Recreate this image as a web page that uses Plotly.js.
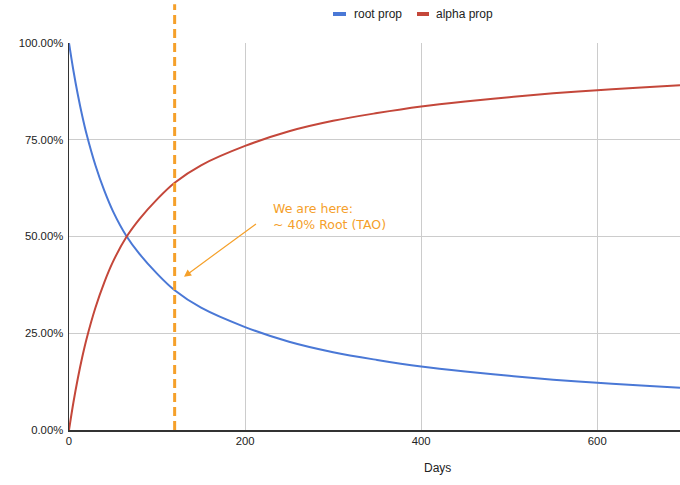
<!DOCTYPE html>
<html>
<head>
<meta charset="utf-8">
<script src="https://cdn.plot.ly/plotly-3.0.1.min.js"></script>
<style>
  html, body { margin: 0; padding: 0; background: #ffffff; }
  #chart { width: 680px; height: 485px; }
</style>
</head>
<body>
<div id="chart"></div>
<script>
// ---- data ----
var days = [0, 5, 10, 15, 20, 30, 40, 50, 65, 80, 100, 120, 150, 200, 250, 300, 350, 400, 450, 500, 550, 600, 650, 694];
var rootProp = [100, 92.9, 86.7, 81.2, 76.4, 68.4, 61.9, 56.5, 50.2, 45.5, 40.4, 36.1, 31.6, 26.6, 22.8, 20.1, 18.1, 16.4, 15.1, 14.0, 13.0, 12.2, 11.5, 10.9];
var alphaProp = [0, 7.1, 13.3, 18.8, 23.6, 31.6, 38.1, 43.5, 49.8, 54.5, 59.6, 63.9, 68.4, 73.4, 77.2, 79.9, 81.9, 83.6, 84.9, 86.0, 87.0, 87.8, 88.5, 89.1];
var seriesNames = ['root prop', 'alpha prop'];
var xTicks = [0, 200, 400, 600];
var yTicks = [0, 25, 50, 75, 100];
var markerDay = 120;
var arrowPoint = {day: 130.6, value: 39.6};
var notePoint = {day: 229.5, value: 59.7};
var noteText = 'We are here:<br>~ 40% Root (TAO)';
var xTitle = 'Days';

var BLUE = '#4a78d6';
var RED = '#c4473a';
var ORANGE = '#f5a02a';
var FONT = 'Liberation Sans, Arial, sans-serif';

var traces = [
  {x: days, y: rootProp, name: seriesNames[0], type: 'scatter', mode: 'lines',
   line: {color: BLUE, width: 2, shape: 'spline', smoothing: 1}, showlegend: false, cliponaxis: false},
  {x: days, y: alphaProp, name: seriesNames[1], type: 'scatter', mode: 'lines',
   line: {color: RED, width: 2, shape: 'spline', smoothing: 1}, showlegend: false, cliponaxis: false}
];

var layout = {
  width: 680, height: 485,
  margin: {l: 69, r: 0, t: 43, b: 55, pad: 0},
  paper_bgcolor: '#ffffff', plot_bgcolor: '#ffffff',
  font: {family: FONT, size: 12, color: '#222222'},
  xaxis: {
    range: [0, 694], tickvals: xTicks, ticktext: xTicks.map(String),
    showgrid: true, gridcolor: '#cccccc', gridwidth: 1,
    zeroline: false, showline: true, linecolor: '#333333', linewidth: 1.5,
    ticks: '', tickfont: {size: 11.3, color: '#222222'}, fixedrange: true
  },
  yaxis: {
    range: [0, 100], tickvals: yTicks, ticktext: yTicks.map(function (v) { return v.toFixed(2) + '%'; }),
    showgrid: true, gridcolor: '#cccccc', gridwidth: 1,
    zeroline: false, showline: true, linecolor: '#333333', linewidth: 1.5,
    ticks: '', ticklabelstandoff: 2, tickfont: {size: 11.3, color: '#222222'}, fixedrange: true
  },
  shapes: [
    {type: 'line', xref: 'x', yref: 'paper', x0: markerDay, x1: markerDay, y0: 0, y1: 1.1,
     line: {color: ORANGE, width: 3, dash: '9px,5px'}},
    // custom legend swatches
    {type: 'rect', xref: 'paper', yref: 'paper', x0: (333 - 69) / 611, x1: (346 - 69) / 611,
     y0: (430 - 16) / 387, y1: (430 - 12) / 387, fillcolor: BLUE, line: {width: 0}},
    {type: 'rect', xref: 'paper', yref: 'paper', x0: (417 - 69) / 611, x1: (429 - 69) / 611,
     y0: (430 - 16) / 387, y1: (430 - 12) / 387, fillcolor: RED, line: {width: 0}}
  ],
  annotations: [
    {xref: 'paper', yref: 'paper', x: (352 - 69) / 611, y: (430 - 14) / 387, xanchor: 'left', yanchor: 'middle',
     text: seriesNames[0], showarrow: false, font: {size: 12, color: '#222222'}},
    {xref: 'paper', yref: 'paper', x: (434 - 69) / 611, y: (430 - 14) / 387, xanchor: 'left', yanchor: 'middle',
     text: seriesNames[1], showarrow: false, font: {size: 12, color: '#222222'}},
    {xref: 'paper', yref: 'paper', x: (437 - 69) / 611, y: (430 - 468) / 387, xanchor: 'center', yanchor: 'middle',
     text: xTitle, showarrow: false, font: {size: 12, color: '#222222'}},
    {xref: 'x', yref: 'y', x: notePoint.day, y: notePoint.value, xanchor: 'left', yanchor: 'top', align: 'left',
     text: noteText, showarrow: false, font: {family: 'DejaVu Sans, Verdana, sans-serif', size: 12.5, color: ORANGE}},
    {xref: 'x', yref: 'y', x: arrowPoint.day, y: arrowPoint.value, text: ' ', showarrow: true,
     ax: 75, ay: -55, arrowhead: 2, arrowsize: 1.2, arrowwidth: 1.2, arrowcolor: ORANGE, standoff: 0, startstandoff: 0}
  ]
};

Plotly.newPlot('chart', traces, layout, {displayModeBar: false, staticPlot: true});
</script>
</body>
</html>
